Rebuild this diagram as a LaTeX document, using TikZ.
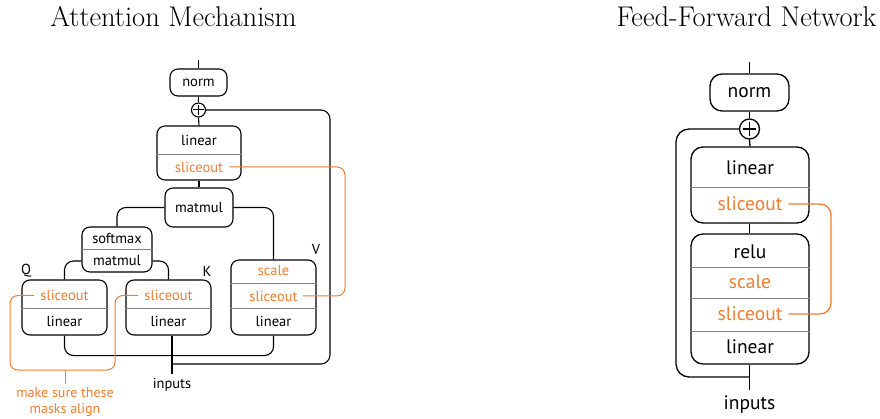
\documentclass[tikz,border=0pt]{standalone}
\usepackage{fontspec}
\newfontfamily\boxfont{PT Sans}
\definecolor{orangec}{RGB}{239,125,49}
\definecolor{divc}{RGB}{130,130,130}
\begin{document}
\begin{tikzpicture}[x=1pt,y=-1pt,
  box/.style={draw, line width=1.1pt, rounded corners=8pt, inner sep=0pt},
  bigbox/.style={box, line width=1.3pt, rounded corners=12pt},
  lbl/.style={font=\boxfont\fontsize{14.5}{16}\selectfont, inner sep=0pt},
  olbl/.style={lbl, text=orangec},
  blbl/.style={font=\boxfont\fontsize{19.5}{22}\selectfont, inner sep=0pt},
  oblbl/.style={blbl, text=orangec},
  div/.style={draw=divc, line width=0.8pt},
  wire/.style={line width=1.1pt, rounded corners=9pt},
  bwire/.style={line width=1.3pt, rounded corners=13pt},
  owire/.style={draw=orangec, line width=1pt, rounded corners=8pt},
  plus/.style={draw, circle, line width=1.1pt, inner sep=0pt},
  title/.style={font=\fontsize{28.5}{33}\selectfont, inner sep=0pt}
]
\useasboundingbox (0,0) rectangle (880,419);

% ---------------- titles ----------------
\node[title] (t1) at (173.5,17) {Attention Mechanism};
\node[title] (t2) at (746.5,17) {Feed-Forward Network};

% ---------------- attention ----------------
\coordinate (atop) at (198.5,60);
\node[box, minimum width=57pt, minimum height=27pt, lbl] (anorm) at (198.5,82.5) {norm};
\node[plus, minimum size=14pt] (aplus) at (198.5,110) {};
\draw[line width=1pt] ([xshift=2.5pt]aplus.west) -- ([xshift=-2.5pt]aplus.east) ([yshift=-2.5pt]aplus.north) -- ([yshift=2.5pt]aplus.south);
\node[box, minimum width=84pt, minimum height=54pt] (alin) at (199,153) {};
\node[lbl] (all) at (199,140.5) {linear};
\node[olbl] (als) at (199,167) {sliceout};
\draw[div] (alin.west |- 0,154) -- (alin.east |- 0,154);

\node[box, minimum width=68pt, minimum height=39pt, lbl] (amat) at (199,207.5) {matmul};

\node[box, minimum width=70pt, minimum height=45pt] (asoft) at (117,249.5) {};
\node[lbl] (asm1) at (117,238.5) {softmax};
\node[lbl] (asm2) at (117,261) {matmul};
\draw[div] (asoft.west |- 0,249.5) -- (asoft.east |- 0,249.5);

\node[box, minimum width=85pt, minimum height=55pt] (aq) at (64.5,307.5) {};
\node[olbl] (aqs) at (64.5,295.5) {sliceout};
\node[lbl] (aql) at (64.5,321) {linear};
\draw[div] (aq.west |- 0,308) -- (aq.east |- 0,308);

\node[box, minimum width=85pt, minimum height=55pt] (ak) at (168.5,307.5) {};
\node[olbl] (aks) at (168.5,295.5) {sliceout};
\node[lbl] (akl) at (168.5,321) {linear};
\draw[div] (ak.west |- 0,308) -- (ak.east |- 0,308);

\node[box, minimum width=85pt, minimum height=75pt] (av) at (273.5,297.5) {};
\node[olbl] (avc) at (273.5,271) {scale};
\node[olbl] (avs) at (273.5,296) {sliceout};
\node[lbl] (avl) at (273.5,321) {linear};
\draw[div] (av.west |- 0,283) -- (av.east |- 0,283);
\draw[div] (av.west |- 0,308) -- (av.east |- 0,308);

\node[lbl] (lq) at (26,271) {Q};
\node[lbl] (lk) at (207,271) {K};
\node[lbl] (lv) at (316,250) {V};

\node[lbl] (ain) at (172,385) {inputs};

\draw[line width=1.1pt] (atop) -- (anorm.north);
\draw[line width=1.1pt] (anorm.south) -- (aplus.north);
\draw[line width=1.1pt] (aplus.south) -- (alin.north);
\draw[line width=1.1pt] (alin.south) -- (amat.north);
\draw[wire] (amat.west) -| (asoft.north);
\draw[wire] (amat.east) -| (av.north);
\draw[wire] (asoft.west |- asm2) -| (aq.north);
\draw[wire] (asoft.east |- asm2) -| (ak.north);
\draw[wire] (aq.south) -- ++(0,20) -| (av.south);
\draw[line width=1.1pt] ([yshift=4pt]ain.north) -- (ain.north |- ak.south);
\coordinate (ares) at (172,364);
\coordinate (arc) at (330,110);
\draw[wire] (ares) -- (ares -| arc) -- (arc) -- (aplus.east);

% orange links
\coordinate (aoc) at (345,0);
\draw[owire] ([xshift=5pt]avs.east) -- (avs.east -| aoc) -- (als.east -| aoc) -- ([xshift=6pt]als.east);
\coordinate (abl) at (10,370);
\coordinate (abr) at (115,370);
\draw[owire] ([xshift=-6pt]aqs.west) -| (abl) -- (abr) |- ([xshift=-6pt]aks.west);
\node[olbl, align=center, font=\boxfont\fontsize{14}{16}\selectfont] (anote) at (65,402.5) {make sure these\\masks align};
\draw[draw=orangec, line width=1pt] (anote.north |- abl) -- ([yshift=4pt]anote.north);

% ---------------- feed-forward ----------------
\coordinate (ftop) at (749.5,62);
\node[bigbox, minimum width=79pt, minimum height=37pt, blbl] (fnorm) at (749.5,92.5) {norm};
\node[plus, line width=1.3pt, minimum size=20pt] (fplus) at (749.5,129) {};
\draw[line width=1.3pt] ([xshift=4pt]fplus.west) -- ([xshift=-4pt]fplus.east) ([yshift=-4pt]fplus.north) -- ([yshift=4pt]fplus.south);
\node[bigbox, minimum width=118pt, minimum height=76pt] (flin) at (750,185) {};
\node[blbl] (fl1) at (750,167.5) {linear};
\node[oblbl] (fs1) at (750,204) {sliceout};
\draw[div] (flin.west |- 0,187) -- (flin.east |- 0,187);

\node[bigbox, minimum width=118pt, minimum height=130pt] (fbot) at (750,299) {};
\node[blbl] (fr) at (750,252) {relu};
\node[oblbl] (fsc) at (750,282) {scale};
\node[oblbl] (fs2) at (750,314) {sliceout};
\node[blbl] (fl2) at (750,347) {linear};
\draw[div] (fbot.west |- 0,267) -- (fbot.east |- 0,267);
\draw[div] (fbot.west |- 0,298) -- (fbot.east |- 0,298);
\draw[div] (fbot.west |- 0,331) -- (fbot.east |- 0,331);

\node[blbl] (fin) at (749.5,405) {inputs};

\draw[line width=1.3pt] (ftop) -- (fnorm.north);
\draw[line width=1.3pt] (fnorm.south) -- (fplus.north);
\draw[line width=1.3pt] (fplus.south) -- (flin.north);
\draw[line width=1.3pt] (flin.south -| fplus) -- (fbot.north -| fplus);
\draw[line width=1.3pt] (fbot.south -| fplus) -- ([yshift=6pt]fin.north);
\coordinate (fres) at (749.5,377);
\coordinate (frc) at (676,129);
\draw[bwire] (fres) -- (fres -| frc) -- (frc) -- (fplus.west);
\coordinate (foc) at (831,0);
\draw[owire, line width=1.3pt, rounded corners=11pt] ([xshift=6pt]fs1.east) -- (fs1.east -| foc) -- (fs2.east -| foc) -- ([xshift=6pt]fs2.east);
\end{tikzpicture}
\end{document}
